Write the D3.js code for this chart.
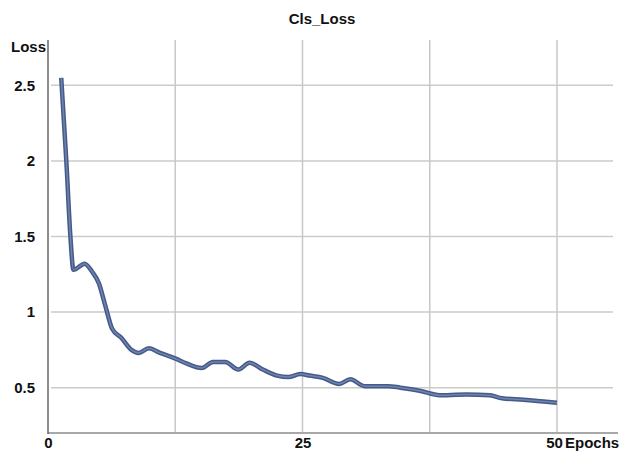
<!DOCTYPE html>
<html>
<head>
<meta charset="utf-8">
<script src="https://cdn.jsdelivr.net/npm/d3@7"></script>
<style>
  body { margin: 0; background: #fff; }
  text { font-family: "Liberation Sans", Arial, sans-serif; font-weight: bold; fill: #111; }
</style>
</head>
<body>
<div class="canvas"></div>
<script>
// data
const epochs = [1.3, 1.8, 2.2, 2.5, 3.6, 4.3, 5.0, 5.6, 6.3, 7.2, 8.2, 8.9, 9.9, 11.0, 12.6, 13.6,
  15.1, 16.2, 17.4, 18.7, 19.8, 21.1, 22.5, 23.6, 24.8, 25.7, 27.0, 28.6, 29.7, 31.1, 33.4,
  34.6, 36.5, 38.5, 39.2, 41.1, 43.4, 44.6, 46.7, 50.0];
const loss = [2.55, 2.0, 1.5, 1.28, 1.32, 1.27, 1.19, 1.05, 0.89, 0.83, 0.75, 0.73, 0.76, 0.73, 0.69, 0.66,
  0.63, 0.67, 0.67, 0.62, 0.665, 0.62, 0.58, 0.57, 0.59, 0.58, 0.565, 0.525, 0.555, 0.51, 0.51,
  0.50, 0.48, 0.45, 0.45, 0.455, 0.45, 0.43, 0.42, 0.40];
const yTicks = [0.5, 1, 1.5, 2, 2.5];
const xTicks = [0, 25, 50];
const xGrid = [12.5, 25, 37.5, 50];

const data = epochs.map((e, i) => ({epoch: e, loss: loss[i]}));

const width = 621, height = 453;
const margin = {top: 40, bottom: 20, left: 48, right: 3};

const svg = d3.select('.canvas')
  .append('svg')
    .attr('width', width)
    .attr('height', height);

const x = d3.scaleLinear()
  .domain([0, 56])
  .range([margin.left, margin.left + 56 * 10.18]);

const y = d3.scaleLinear()
  .domain([0.2, 2.8])
  .range([height - margin.bottom, margin.top]);

// grid
svg.append('g')
  .selectAll('line')
  .data(yTicks)
  .enter().append('line')
    .attr('x1', margin.left + 3)
    .attr('x2', 613)
    .attr('y1', d => y(d))
    .attr('y2', d => y(d))
    .attr('stroke', '#c9cdc9')
    .attr('stroke-width', 1.5);

svg.append('g')
  .selectAll('line')
  .data(xGrid)
  .enter().append('line')
    .attr('x1', d => x(d))
    .attr('x2', d => x(d))
    .attr('y1', margin.top)
    .attr('y2', y(0.2))
    .attr('stroke', '#c8c8cc')
    .attr('stroke-width', 1.5);

// axes
const yAxis = d3.axisLeft(y)
  .tickValues(yTicks)
  .tickFormat(d3.format('~g'))
  .tickSize(0)
  .tickPadding(13);

const xAxis = d3.axisBottom(x)
  .tickValues(xTicks)
  .tickSize(0)
  .tickPadding(4);

const yAxisGroup = svg.append('g')
  .attr('transform', `translate(${margin.left}, 0)`)
  .call(yAxis);
yAxisGroup.select('.domain').remove();
yAxisGroup.selectAll('text')
  .attr('font-size', 15)
  .attr('font-family', '"Liberation Sans", Arial, sans-serif')
  .attr('font-weight', 'bold')
  .attr('fill', '#111');

const xAxisGroup = svg.append('g')
  .attr('transform', `translate(0, ${y(0.2)})`)
  .call(xAxis);
xAxisGroup.select('.domain').remove();
xAxisGroup.selectAll('text')
  .attr('font-size', 15)
  .attr('font-family', '"Liberation Sans", Arial, sans-serif')
  .attr('font-weight', 'bold')
  .attr('fill', '#111');
xAxisGroup.selectAll('.tick')
  .filter(d => d === 50)
  .select('text')
  .attr('dx', -3);

svg.append('line')
  .attr('x1', margin.left)
  .attr('x2', 618)
  .attr('y1', y(0.2))
  .attr('y2', y(0.2))
  .attr('stroke', '#a8a8a8')
  .attr('stroke-width', 2);

svg.append('line')
  .attr('x1', margin.left)
  .attr('x2', margin.left)
  .attr('y1', margin.top)
  .attr('y2', y(0.2) + 1)
  .attr('stroke', '#666')
  .attr('stroke-width', 1.5);

// loss line
const line = d3.line()
  .x(d => x(d.epoch))
  .y(d => y(d.loss))
  .curve(d3.curveMonotoneX);

svg.append('path')
  .datum(data)
  .attr('fill', 'none')
  .attr('stroke', '#465a88')
  .attr('stroke-width', 4.5)
  .attr('stroke-linejoin', 'round')
  .attr('d', line);

svg.append('path')
  .datum(data)
  .attr('fill', 'none')
  .attr('stroke', '#6f84b0')
  .attr('stroke-width', 1.5)
  .attr('stroke-linejoin', 'round')
  .attr('d', line);

// labels
svg.append('text')
  .attr('x', 322)
  .attr('y', 24)
  .attr('text-anchor', 'middle')
  .attr('font-size', 15)
  .text('Cls_Loss');

svg.append('text')
  .attr('x', 46)
  .attr('y', 52)
  .attr('text-anchor', 'end')
  .attr('font-size', 15)
  .text('Loss');

svg.append('text')
  .attr('x', 565)
  .attr('y', y(0.2) + 15)
  .attr('font-size', 15)
  .text('Epochs');
</script>
</body>
</html>
